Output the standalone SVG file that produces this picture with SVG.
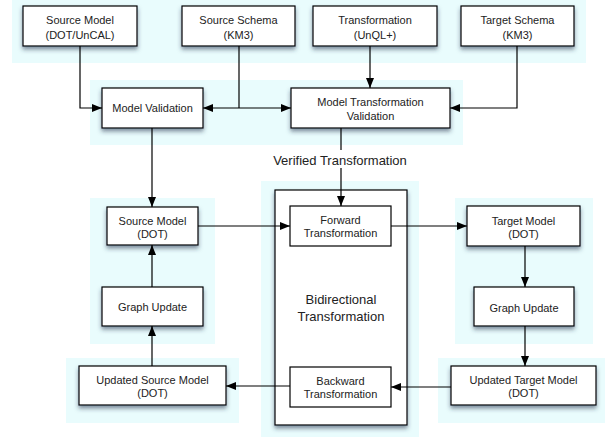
<svg xmlns="http://www.w3.org/2000/svg" width="605" height="437" viewBox="0 0 605 437">
<defs>
<style>
.panel{fill:#e9fcfd;stroke:none}
.box{fill:#fff;stroke:#000;stroke-width:1.2;filter:url(#sh)}
.inner{fill:#fff;stroke:#000;stroke-width:1.2}
text{font-family:"Liberation Sans",Arial,Helvetica,sans-serif;font-size:11px;fill:#222;text-anchor:middle}
.big{font-size:13px}
.edge{fill:none;stroke:#000;stroke-width:1.2}
.arr{marker-end:url(#ah)}
</style>
<filter id="sh" x="-20%" y="-20%" width="140%" height="160%">
<feDropShadow dx="0" dy="3" stdDeviation="2" flood-color="#2a3550" flood-opacity="0.55"/>
</filter>
<marker id="ah" viewBox="0 0 10 10" refX="10" refY="5" markerWidth="10" markerHeight="10" markerUnits="userSpaceOnUse" orient="auto">
<path d="M0,1 L10,5 L0,9 Z" fill="#000"/>
</marker>
</defs>
<rect width="605" height="437" fill="#fff"/>
<g id="panels">
<rect class="panel" x="12" y="0" width="574" height="63"/>
<rect class="panel" x="90" y="80" width="373" height="65"/>
<rect class="panel" x="90" y="198" width="125" height="146"/>
<rect class="panel" x="261" y="181" width="158" height="256"/>
<rect class="panel" x="455" y="198" width="138" height="146"/>
<rect class="panel" x="66" y="358" width="173" height="65"/>
<rect class="panel" x="438" y="358" width="167" height="65"/>
</g>
<g id="source-model">
<rect class="box" x="23" y="6" width="114" height="40"/>
<text x="80" y="24">Source Model</text>
<text x="80" y="39">(DOT/UnCAL)</text>
</g>
<g id="source-schema">
<rect class="box" x="182" y="6" width="113" height="40"/>
<text x="238.5" y="24">Source Schema</text>
<text x="238.5" y="39">(KM3)</text>
</g>
<g id="transformation">
<rect class="box" x="313" y="6" width="124" height="40"/>
<text x="375" y="24">Transformation</text>
<text x="375" y="39">(UnQL+)</text>
</g>
<g id="target-schema">
<rect class="box" x="461" y="6" width="113" height="40"/>
<text x="517.5" y="24">Target Schema</text>
<text x="517.5" y="39">(KM3)</text>
</g>
<g id="model-validation">
<rect class="box" x="102" y="88" width="101" height="40"/>
<text x="152.5" y="112">Model Validation</text>
</g>
<g id="mt-validation">
<rect class="box" x="291" y="88" width="159" height="40"/>
<text x="370.5" y="106">Model Transformation</text>
<text x="370.5" y="120">Validation</text>
</g>
<g id="bidirectional">
<rect class="box" x="275" y="190" width="132" height="235"/>
<text class="big" x="341" y="304">Bidirectional</text>
<text class="big" x="341" y="321">Transformation</text>
</g>
<g id="forward">
<rect class="inner" x="290" y="206" width="101" height="40"/>
<text x="340.5" y="224">Forward</text>
<text x="340.5" y="237">Transformation</text>
</g>
<g id="backward">
<rect class="inner" x="290" y="367" width="101" height="40"/>
<text x="340.5" y="385">Backward</text>
<text x="340.5" y="398">Transformation</text>
</g>
<g id="source-model-dot">
<rect class="box" x="107" y="207" width="91" height="38"/>
<text x="152.5" y="225">Source Model</text>
<text x="152.5" y="238">(DOT)</text>
</g>
<g id="graph-update-left">
<rect class="box" x="102" y="287" width="101" height="39"/>
<text x="152.5" y="311">Graph Update</text>
</g>
<g id="updated-source-model">
<rect class="box" x="79" y="366" width="147" height="39"/>
<text x="152.5" y="384">Updated Source Model</text>
<text x="152.5" y="397">(DOT)</text>
</g>
<g id="target-model">
<rect class="box" x="467" y="206" width="113" height="40"/>
<text x="523.5" y="225">Target Model</text>
<text x="523.5" y="238">(DOT)</text>
</g>
<g id="graph-update-right">
<rect class="box" x="474" y="287" width="100" height="39"/>
<text x="524" y="312">Graph Update</text>
</g>
<g id="updated-target-model">
<rect class="box" x="451" y="366" width="145" height="39"/>
<text x="523.5" y="384">Updated Target Model</text>
<text x="523.5" y="397">(DOT)</text>
</g>
<g id="connectors">
<path class="edge arr" d="M80,46 V108 H102"/>
<path class="edge" d="M239,46 V108"/>
<path class="edge arr" d="M239,108 H203"/>
<path class="edge arr" d="M239,108 H291"/>
<path class="edge arr" d="M370,46 V88"/>
<path class="edge arr" d="M517,46 V108 H450"/>
<path class="edge" d="M341,128 V150"/>
<path class="edge arr" d="M341,168 V206"/>
<path class="edge arr" d="M152,128 V207"/>
<path class="edge arr" d="M198,226 H290"/>
<path class="edge arr" d="M152,287 V245"/>
<path class="edge arr" d="M152,366 V326"/>
<path class="edge arr" d="M391,226 H467"/>
<path class="edge arr" d="M525,246 V287"/>
<path class="edge arr" d="M525,326 V366"/>
<path class="edge arr" d="M451,387 H391"/>
<path class="edge arr" d="M290,386 H226"/>
<text class="big" x="340" y="165">Verified Transformation</text>
</g>
</svg>
